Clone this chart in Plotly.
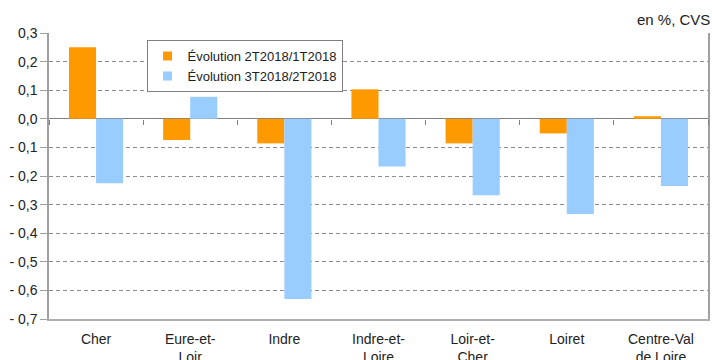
import plotly.graph_objects as go

categories = ["Cher", "Eure-et-<br>Loir", "Indre", "Indre-et-<br>Loire", "Loir-et-<br>Cher", "Loiret", "Centre-Val<br>de Loire"]
evol_2t_1t = [0.25, -0.074, -0.086, 0.103, -0.086, -0.051, 0.009]
evol_3t_2t = [-0.225, 0.077, -0.63, -0.167, -0.267, -0.333, -0.235]
series_names = ["Évolution 2T2018/1T2018", "Évolution 3T2018/2T2018"]
series_colors = ["#FF9900", "#99CCFF"]
y_tick_vals = [-0.7, -0.6, -0.5, -0.4, -0.3, -0.2, -0.1, 0.0, 0.1, 0.2, 0.3]
y_tick_text = ["- 0,7", "- 0,6", "- 0,5", "- 0,4", "- 0,3", "- 0,2", "- 0,1", "0,0", "0,1", "0,2", "0,3"]
unit_label = "en %, CVS"

FONT = "Liberation Sans, Arial, sans-serif"
GRAY = "#a0a0a0"

fig = go.Figure()
for name, vals, col in zip(series_names, [evol_2t_1t, evol_3t_2t], series_colors):
    fig.add_trace(go.Bar(x=categories, y=vals, name=name, marker_color=col,
                         marker_line_width=0, showlegend=False))
# legend entries with small square swatches
for name, col in zip(series_names, series_colors):
    fig.add_trace(go.Scatter(x=[None], y=[None], name=name, mode="markers",
                             marker=dict(symbol="square", size=9, color=col)))
# invisible helper trace carrying the boundary ticks on the zero line
n = len(categories)
fig.add_trace(go.Scatter(x=list(range(n)), y=evol_2t_1t, xaxis="x2", mode="markers",
                         marker=dict(opacity=0), showlegend=False, hoverinfo="skip"))

fig.update_layout(
    width=712, height=360,
    margin=dict(l=49, r=4, t=33, b=41, autoexpand=False),
    paper_bgcolor="white", plot_bgcolor="white",
    font=dict(family=FONT, size=14, color="#222"),
    barmode="group", bargap=0.425, bargroupgap=0,
    showlegend=True,
    legend=dict(x=0.148, y=0.975, xanchor="left", yanchor="top",
                bordercolor="#808080", borderwidth=1, bgcolor="white",
                font=dict(size=13, family=FONT), tracegroupgap=0,
                itemwidth=30),
    xaxis=dict(type="category", showline=True, linecolor="#b0b0b0", linewidth=2, mirror=False,
               ticks="", showgrid=False, tickfont=dict(size=14), automargin=False,
               ticklabelstandoff=6),
    xaxis2=dict(overlaying="x", anchor="free", automargin=False,
                position=(0 - y_tick_vals[0]) / (y_tick_vals[-1] - y_tick_vals[0]),
                range=[-0.5, n - 0.5], tickvals=[i - 0.5 for i in range(n + 1)],
                showticklabels=False, ticks="outside", ticklen=5, tickcolor="#808080",
                showline=False, showgrid=False, zeroline=False, side="bottom"),
    xaxis3=dict(overlaying="x", anchor="y", side="top", showline=True, linecolor=GRAY,
                linewidth=1, showticklabels=False, ticks="", showgrid=False, zeroline=False,
                automargin=False),
    yaxis=dict(range=[y_tick_vals[0], y_tick_vals[-1]], tickvals=y_tick_vals, ticktext=y_tick_text,
               showline=True, linecolor=GRAY, linewidth=1.5, mirror=True, automargin=False,
               ticks="outside", ticklen=7, tickcolor=GRAY,
               showgrid=True, gridcolor="#8c8c8c", griddash="4px,3px", gridwidth=1,
               zeroline=True, zerolinecolor="#808080", zerolinewidth=1,
               tickfont=dict(size=14)),
    annotations=[dict(text=unit_label, xref="paper", yref="paper", x=1.0, y=1.0,
                      xanchor="right", yanchor="bottom", yshift=3, xshift=4, showarrow=False,
                      font=dict(size=15, family=FONT, color="#222"))],
)

fig.write_html("out.html")
